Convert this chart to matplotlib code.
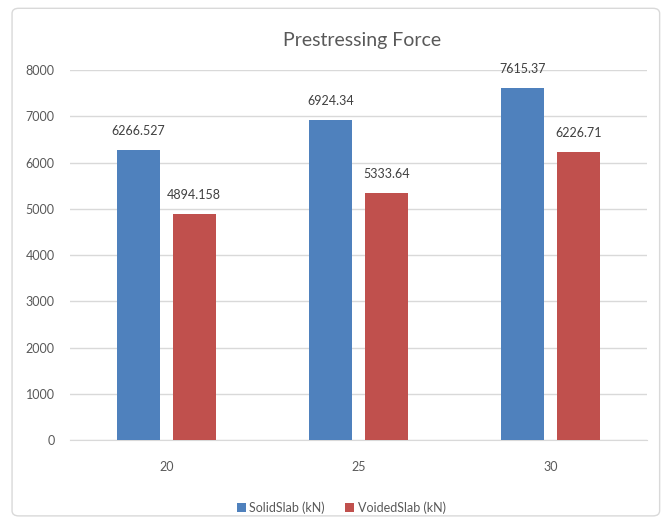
import matplotlib
matplotlib.use("Agg")
import matplotlib.pyplot as plt
import numpy as np
from matplotlib.patches import FancyBboxPatch

plt.rcParams['font.family'] = ['Liberation Sans Narrow', 'Lato', 'DejaVu Sans']

categories = ["20", "25", "30"]
solid_slab = [6266.527, 6924.34, 7615.37]
voided_slab = [4894.158, 5333.64, 6226.71]
solid_labels = ["6266.527", "6924.34", "7615.37"]
voided_labels = ["4894.158", "5333.64", "6226.71"]

blue = "#4F81BD"
red = "#C0504D"
text_col = "#595959"

fig = plt.figure(figsize=(6.69, 5.19), dpi=100)
fig.patches.append(FancyBboxPatch((0.018, 0.006), 0.968, 0.978,
                                  boxstyle="round,pad=0,rounding_size=0.01",
                                  transform=fig.transFigure, fill=False,
                                  edgecolor="#D9D9D9", linewidth=1.0))
ax = fig.add_axes([70 / 669, 0.152, 577 / 669, 0.713])

x = np.arange(len(categories))
w = 0.224
off = 0.146
b1 = ax.bar(x - off, solid_slab, w, color=blue, zorder=3, label="SolidSlab (kN)")
b2 = ax.bar(x + off, voided_slab, w, color=red, zorder=3, label="VoidedSlab (kN)")

for bars, labels in ((b1, solid_labels), (b2, voided_labels)):
    for rect, lab in zip(bars, labels):
        ax.annotate(lab, (rect.get_x() + rect.get_width() / 2, rect.get_height()),
                    xytext=(0, 9.5), textcoords="offset points", ha="center", va="bottom",
                    fontsize=9, color="#404040")

ax.set_xlim(-0.5, 2.5)
ax.set_ylim(0, 8000)
ax.set_yticks(np.arange(0, 8001, 1000))
ax.set_xticks(x)
ax.set_xticklabels(categories)
ax.yaxis.grid(True, color="#D9D9D9", linewidth=1.0, zorder=0)
ax.set_axisbelow(True)
for s in ["top", "right", "left"]:
    ax.spines[s].set_visible(False)
ax.spines["bottom"].set_color("#D9D9D9")
ax.tick_params(axis="both", length=0, labelsize=9, colors=text_col)
ax.tick_params(axis="x", pad=15)
ax.tick_params(axis="y", pad=11)

fig.text(0.541, 0.922, "Prestressing Force", ha="center", va="center",
         fontsize=14, color=text_col)

fig.legend(handles=[b1, b2], loc="center", bbox_to_anchor=(0.51, 0.022),
           ncol=2, frameon=False, fontsize=9, labelcolor=text_col,
           handlelength=0.7, handleheight=0.7, handletextpad=0.3, columnspacing=1.6)

fig.savefig("out.png", dpi=100)
